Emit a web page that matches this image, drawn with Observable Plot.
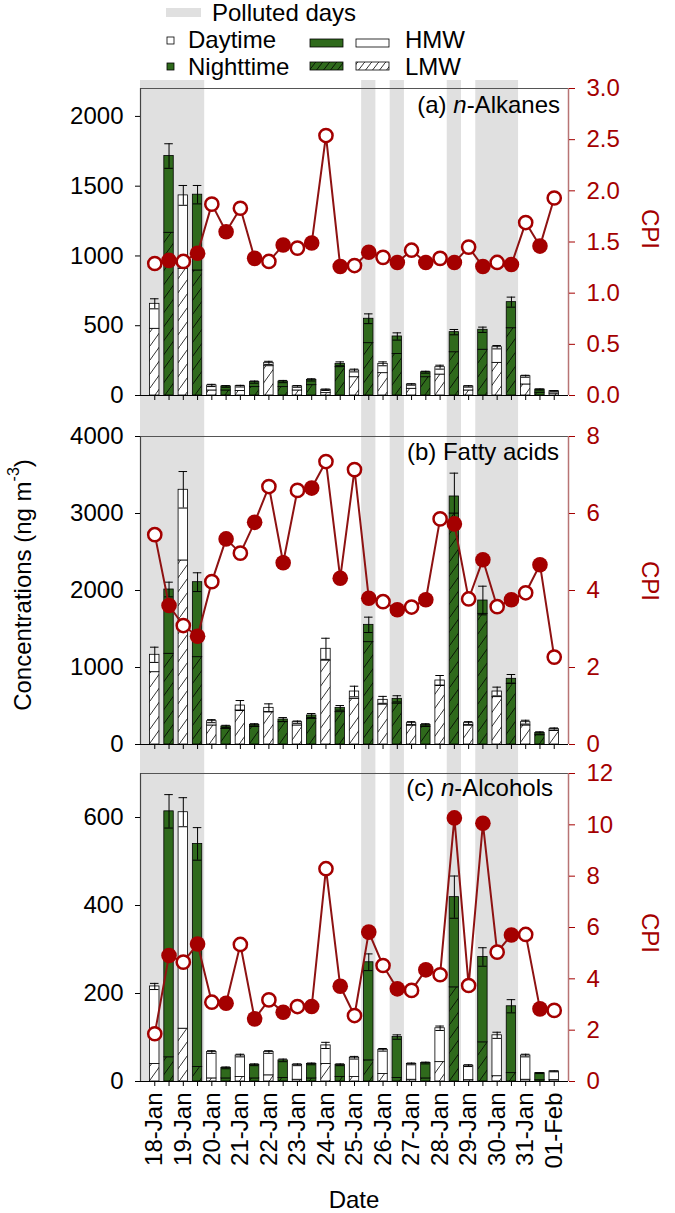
<!DOCTYPE html>
<html><head><meta charset="utf-8">
<script src="https://cdn.jsdelivr.net/npm/d3@7"></script>
<script src="https://cdn.jsdelivr.net/npm/@observablehq/plot@0.6"></script>
<style>
body{margin:0;background:#fff;}
#wrap{position:relative;width:675px;height:1213px;font-family:"Liberation Sans",Arial,sans-serif;overflow:hidden;}
#wrap svg{overflow:visible;}
.abs{position:absolute;left:0;}
</style></head><body><div id="wrap"></div>
<script>
// ---- data ----
const dates = ["18-Jan","19-Jan","20-Jan","21-Jan","22-Jan","23-Jan","24-Jan","25-Jan","26-Jan","27-Jan","28-Jan","29-Jan","30-Jan","31-Jan","01-Feb"];
const period = ["D","N","D","N","D","N","D","N","D","N","D","N","D","N","D","N","D","N","D","N","D","N","D","N","D","N","D","N","D"];
// polluted sample ranges (sample index from..to)
const pollutedFrom = [-1, 15, 17, 21, 23];
const pollutedTo   = [3, 15, 17, 21, 25];

// (a) n-Alkanes
const alkTotal = [657,1716,1434,1439,72,65,67,96,234,100,65,112,41,227,179,550,227,423,79,167,203,454,65,471,346,669,138,43,31];
const alkLMW   = [478,1166,908,896,36,36,33,60,210,60,36,74,17,203,131,375,160,298,48,131,150,310,36,328,234,482,79,20,14];
const alkErr   = [36,88,71,66,8,6,6,8,11,8,6,8,5,14,10,35,14,26,5,7,14,19,5,19,12,36,7,4,4];
const alkCPI   = [1.29,1.32,1.31,1.39,1.87,1.60,1.83,1.34,1.31,1.47,1.44,1.49,2.54,1.26,1.27,1.40,1.35,1.30,1.42,1.30,1.34,1.30,1.45,1.26,1.30,1.28,1.69,1.46,1.93];

// (b) Fatty acids
const faTotal = [1165,2013,3308,2108,303,234,506,255,476,325,290,377,1243,476,688,1554,580,593,277,255,831,3221,277,1870,688,853,290,150,200];
const faLMW   = [939,1178,2390,1134,247,200,442,230,420,290,247,333,1091,420,593,1329,519,532,247,230,766,3000,247,1697,615,788,247,120,180];
const faErr   = [99,95,237,122,20,15,65,15,52,25,15,25,137,30,69,100,45,40,20,15,65,303,20,186,57,56,25,15,15];
const faCPI   = [5.45,3.61,3.09,2.81,4.23,5.34,4.97,5.77,6.70,4.72,6.60,6.66,7.35,4.32,7.14,3.80,3.71,3.50,3.57,3.76,5.86,5.73,3.78,4.80,3.58,3.76,3.94,4.67,2.27];

// (c) n-Alcohols
const alcTotal = [216,614,612,540,67,31,59,38,67,48,38,40,82,38,54,271,72,101,40,42,121,419,36,283,105,171,59,19,23];
const alcLMW   = [40,55,120,33,7,7,10,7,14,8,4,7,40,10,10,48,17,8,4,7,44,214,3,89,12,19,4,3,3];
const alcErr   = [7,38,33,37,3,2,3,2,3,3,2,2,7,2,3,19,3,5,2,2,5,48,2,21,7,15,3,1,1];
const alcCPI   = [1.86,4.91,4.65,5.36,3.09,3.05,5.34,2.44,3.18,2.70,2.92,2.92,8.29,3.71,2.57,5.82,4.52,3.61,3.55,4.35,4.16,10.27,3.74,10.06,5.04,5.71,5.73,2.83,2.77];

// ---- styling ----
const GREEN = "#2f6a1c", RED = "#a40000", LINE = "#8e1212", SHADE = "#e0e0e0";
const FONT = "Liberation Sans, Arial, sans-serif";
const N = period.length;
const wrap = document.getElementById("wrap");

function panel(o) {
  const k = o.yMax / o.cpiMax;
  const rows = d3.range(N).map(i => ({i, day: period[i] === "D", total: o.total[i], lmw: o.lmw[i], err: o.err[i], cpi: o.cpi[i] * k}));
  const dayRows = rows.filter(d => d.day), nightRows = rows.filter(d => !d.day);
  const bands = pollutedFrom.map((f, j) => ({x1: Math.max(-1, f - 0.5), x2: pollutedTo[j] + 0.5}));
  const yLow = -o.yMax * o.gapBelow / o.frameH;
  const yHigh = o.yMax * (1 + o.mTop / o.frameH);
  const hw = 0.33, cw = 0.3;
  const barStyle = {stroke: "black", strokeWidth: 0.8};
  const fmtR = v => { const c = Math.round(v / k * 10) / 10; return o.cpiMax === 3 ? c.toFixed(1) : String(Math.round(c)); };
  const plot = Plot.plot({
    width: 675, height: o.mTop + o.frameH + o.mBottom,
    marginLeft: 140, marginRight: 107, marginTop: o.mTop, marginBottom: o.mBottom,
    x: {type: "linear", domain: [-1, 29], axis: null},
    y: {domain: [0, o.yMax], axis: null},
    style: {fontFamily: FONT, fontSize: "24px", background: "transparent", overflow: "visible", color: "black"},
    marks: [
      Plot.rect(bands, {x1: "x1", x2: "x2", y1: yLow, y2: yHigh, fill: SHADE}),
      Plot.rect(dayRows, {x1: d => d.i - hw, x2: d => d.i + hw, y1: 0, y2: "lmw", fill: "url(#hatchW)", ...barStyle}),
      Plot.rect(nightRows, {x1: d => d.i - hw, x2: d => d.i + hw, y1: 0, y2: "lmw", fill: "url(#hatchG)", ...barStyle}),
      Plot.rect(dayRows, {x1: d => d.i - hw, x2: d => d.i + hw, y1: "lmw", y2: "total", fill: "white", ...barStyle}),
      Plot.rect(nightRows, {x1: d => d.i - hw, x2: d => d.i + hw, y1: "lmw", y2: "total", fill: GREEN, ...barStyle}),
      Plot.ruleX(rows, {x: "i", y1: d => d.total - d.err, y2: d => d.total + d.err, stroke: "black", strokeWidth: 1}),
      Plot.ruleY(rows, {y: d => d.total + d.err, x1: d => d.i - cw, x2: d => d.i + cw, stroke: "black", strokeWidth: 1}),
      Plot.ruleY(rows, {y: d => d.total - d.err, x1: d => d.i - cw, x2: d => d.i + cw, stroke: "black", strokeWidth: 1}),
      // frame
      Plot.ruleY([o.yMax], {stroke: "#555", strokeWidth: 1.2}),
      Plot.ruleX([-1], {stroke: "#444", strokeWidth: 1.2}),
      Plot.ruleX([29], {stroke: "#b87474", strokeWidth: 1.5}),
      Plot.ruleY([0], {stroke: "black", strokeWidth: 1.2}),
      Plot.axisX({ticks: d3.range(N), tickSize: 5, tickPadding: 6, fontSize: 24,
        tickRotate: o.labels ? -90 : 0,
        tickFormat: o.labels ? (i => i % 2 === 0 ? dates[i / 2] : "") : (() => ""), label: null}),
      Plot.axisY({ticks: o.leftTicks, anchor: "left", tickSize: 5, tickPadding: 12, fontSize: 24, label: null, tickFormat: d => String(d)}),
      Plot.axisY({ticks: o.rightTicks.map(v => v * k), anchor: "right", tickSize: 6, tickPadding: 12, fontSize: 24, label: null, color: RED, tickFormat: fmtR}),
      // CPI line + points
      Plot.line(rows, {x: "i", y: "cpi", stroke: LINE, strokeWidth: 2}),
      Plot.dot(dayRows, {x: "i", y: "cpi", r: 6.6, fill: "white", stroke: RED, strokeWidth: 2.5}),
      Plot.dot(nightRows, {x: "i", y: "cpi", r: 7.8, fill: RED, stroke: "none"})
    ]
  });
  plot.classList.add("abs");
  plot.style.top = o.top + "px";
  wrap.appendChild(plot);
}

panel({total: alkTotal, lmw: alkLMW, err: alkErr, cpi: alkCPI, yMax: 2200, cpiMax: 3,
  leftTicks: [0, 500, 1000, 1500, 2000], rightTicks: [0, 0.5, 1, 1.5, 2, 2.5, 3],
  top: 80, mTop: 8, frameH: 307, mBottom: 41, gapBelow: 41, labels: false});
panel({total: faTotal, lmw: faLMW, err: faErr, cpi: faCPI, yMax: 4000, cpiMax: 8,
  leftTicks: [0, 1000, 2000, 3000, 4000], rightTicks: [0, 2, 4, 6, 8],
  top: 435, mTop: 1, frameH: 308, mBottom: 29, gapBelow: 29, labels: false});
panel({total: alcTotal, lmw: alcLMW, err: alcErr, cpi: alcCPI, yMax: 700, cpiMax: 12,
  leftTicks: [0, 200, 400, 600], rightTicks: [0, 2, 4, 6, 8, 10, 12],
  top: 772, mTop: 1, frameH: 308, mBottom: 132, gapBelow: 0, labels: true});

// ---- overlay: legend, titles, axis labels ----
const NS = "http://www.w3.org/2000/svg";
const ov = document.createElementNS(NS, "svg");
ov.setAttribute("width", 675); ov.setAttribute("height", 1213);
ov.setAttribute("class", "abs"); ov.style.top = "0px"; ov.style.pointerEvents = "none";
ov.setAttribute("font-family", FONT);
ov.innerHTML = `
<defs>
  <pattern id="hatchW" patternUnits="userSpaceOnUse" width="10" height="14">
    <rect width="10" height="14" fill="white"/><path d="M0,14L10,0M-1,1L1,-1M9,15L11,13" stroke="black" stroke-width="0.8"/></pattern>
  <pattern id="hatchG" patternUnits="userSpaceOnUse" width="10" height="14">
    <rect width="10" height="14" fill="${GREEN}"/><path d="M0,14L10,0M-1,1L1,-1M9,15L11,13" stroke="black" stroke-width="0.8"/></pattern>
  <pattern id="lhatchW" patternUnits="userSpaceOnUse" width="7" height="9">
    <rect width="7" height="9" fill="white"/><path d="M0,9L7,0M-1,1L1,-1M6,10L8,8" stroke="black" stroke-width="0.8"/></pattern>
  <pattern id="lhatchG" patternUnits="userSpaceOnUse" width="7" height="9">
    <rect width="7" height="9" fill="${GREEN}"/><path d="M0,9L7,0M-1,1L1,-1M6,10L8,8" stroke="black" stroke-width="0.8"/></pattern>
</defs>
<g font-size="24" fill="black">
  <rect x="166" y="8" width="35" height="9" fill="${SHADE}"/>
  <text x="212" y="21">Polluted days</text>
  <rect x="167" y="37" width="7" height="7" fill="white" stroke="black" stroke-width="0.8"/>
  <text x="188" y="48">Daytime</text>
  <rect x="167" y="63" width="7" height="7" fill="${GREEN}" stroke="black" stroke-width="0.8"/>
  <text x="188" y="75">Nighttime</text>
  <rect x="310" y="39" width="33" height="8" fill="${GREEN}" stroke="black" stroke-width="0.8"/>
  <rect x="356" y="39" width="33" height="8" fill="white" stroke="black" stroke-width="0.8"/>
  <text x="405" y="48">HMW</text>
  <rect x="310" y="62" width="33" height="8" fill="url(#lhatchG)" stroke="black" stroke-width="0.8"/>
  <rect x="356" y="62" width="33" height="8" fill="url(#lhatchW)" stroke="black" stroke-width="0.8"/>
  <text x="405" y="75">LMW</text>

  <text x="560" y="113" text-anchor="end">(a) <tspan font-style="italic">n</tspan>-Alkanes</text>
  <text x="559" y="460" text-anchor="end">(b) Fatty acids</text>
  <text x="553" y="796" text-anchor="end">(c) <tspan font-style="italic">n</tspan>-Alcohols</text>

  <text transform="translate(22,585) rotate(-90)" text-anchor="middle" dominant-baseline="central">Concentrations (ng m<tspan font-size="16" dy="-9">-3</tspan><tspan dy="9">)</tspan></text>
  <text x="354" y="1208" text-anchor="middle">Date</text>
</g>
<g font-size="24" fill="${RED}">
  <text transform="translate(650,229) rotate(90)" text-anchor="middle" dominant-baseline="central">CPI</text>
  <text transform="translate(650,581) rotate(90)" text-anchor="middle" dominant-baseline="central">CPI</text>
  <text transform="translate(650,933) rotate(90)" text-anchor="middle" dominant-baseline="central">CPI</text>
</g>`;
wrap.appendChild(ov);
</script>
</body></html>
